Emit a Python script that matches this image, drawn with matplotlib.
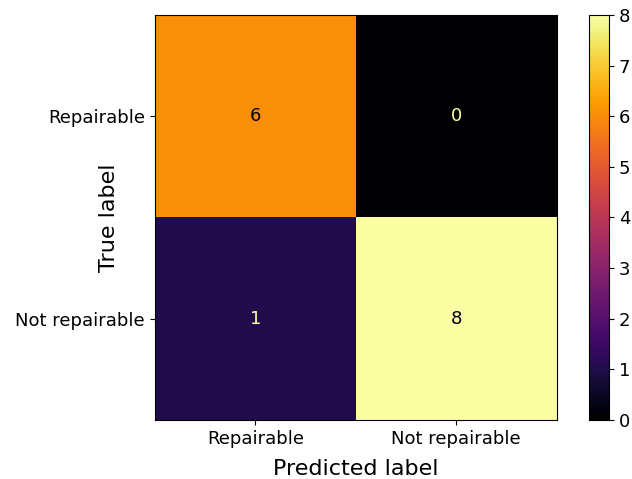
import numpy as np
import matplotlib.pyplot as plt

classes = ['Repairable', 'Not repairable']
counts = np.array([[6, 0],
                   [1, 8]])

fig = plt.figure(figsize=(6.32, 4.79), dpi=100)
ax = fig.add_axes([0.245, 0.123, 0.636, 0.846])
cax = fig.add_axes([0.932, 0.123, 0.032, 0.846])

cmap = plt.get_cmap('inferno')
im = ax.imshow(counts, cmap=cmap, interpolation='nearest', aspect='auto')
fig.colorbar(im, cax=cax)

# light text on dark cells, dark text on light cells
thresh = (counts.max() + counts.min()) / 2.0
for i in range(counts.shape[0]):
    for j in range(counts.shape[1]):
        color = cmap(0) if counts[i, j] > thresh else cmap(1.0)
        ax.text(j, i, str(counts[i, j]), ha='center', va='center',
                color=color, fontsize=13)

ax.set_xticks(np.arange(len(classes)))
ax.set_yticks(np.arange(len(classes)))
ax.set_xticklabels(classes, fontsize=13)
ax.set_yticklabels(classes, fontsize=13)
ax.set_xlabel('Predicted label', fontsize=16)
ax.set_ylabel('True label', fontsize=16)
ax.yaxis.set_label_coords(-0.09, 0.5)
ax.xaxis.set_label_coords(0.5, -0.095)
cax.tick_params(labelsize=13)

fig.savefig('out.png', dpi=100)
